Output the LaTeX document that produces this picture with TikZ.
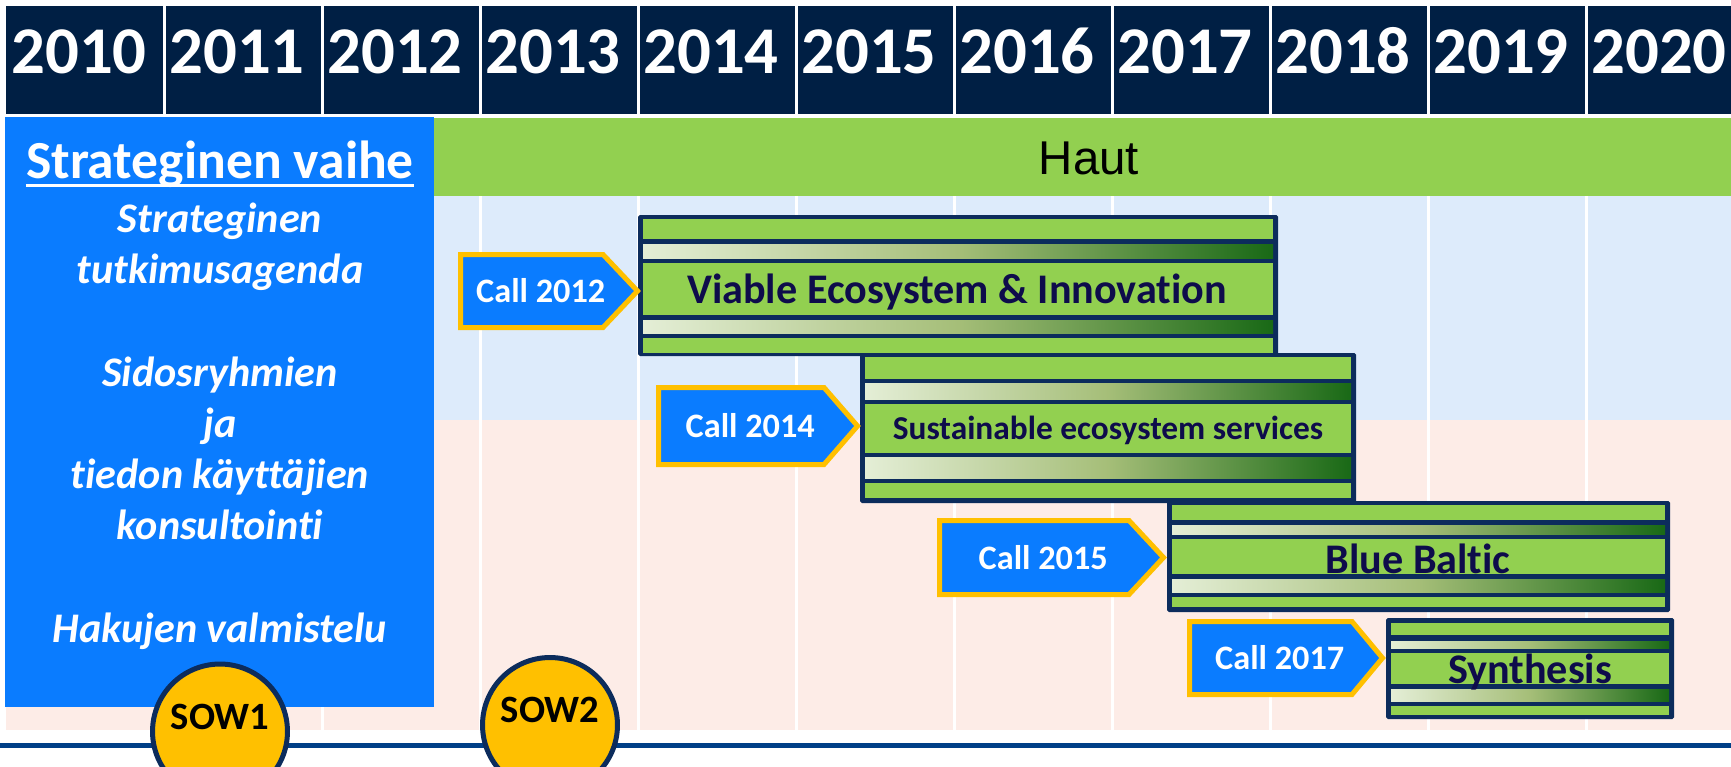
\documentclass[tikz,border=0pt]{standalone}
\usepackage{fontspec}
\setmainfont{Carlito}[Ligatures={NoCommon,NoContextual}, Contextuals=NoAlternate, RawFeature=-dlig]
\newfontfamily\arialfont{Liberation Sans}
\def\pxu{0.569pt}
\definecolor{hdr}{RGB}{0,31,68}
\definecolor{bbox}{RGB}{10,124,255}
\definecolor{hgreen}{RGB}{146,208,80}
\definecolor{navy}{RGB}{12,44,92}
\definecolor{lblue}{RGB}{221,235,251}
\definecolor{lpink}{RGB}{253,236,231}
\definecolor{lineblue}{RGB}{0,63,135}
\definecolor{gold}{RGB}{255,192,0}
\definecolor{gL}{RGB}{228,238,214}
\definecolor{gM}{RGB}{165,190,120}
\definecolor{gR}{RGB}{25,105,22}
\definecolor{ttl}{RGB}{14,12,75}
\tikzset{
  yeartext/.style={anchor=base, text=white, font=\bfseries\fontsize{38}{38}\selectfont, inner sep=0},
  lefttext/.style={anchor=base, text=white, font=\bfseries\itshape\fontsize{24}{24}\selectfont, inner sep=0},
  calltext/.style={text=white, font=\bfseries\fontsize{19.5}{19.5}\selectfont, inner sep=0},
  projtext/.style={anchor=base, text=ttl, font=\bfseries\fontsize{24}{24}\selectfont, inner sep=0},
  sowtext/.style={anchor=base, text=black, font=\bfseries\fontsize{22}{22}\selectfont, inner sep=0},
  callshape/.style={fill=bbox, draw=gold, line width=5*\pxu, line join=miter},
  gstripe/.style={fill=hgreen},
  dstripe/.style={left color=gL, right color=gR, middle color=gM},
  sowcircle/.style={circle, fill=gold, draw=navy, line width=5*\pxu, minimum size=135*\pxu, inner sep=0},
  gridline/.style={white, line width=3*\pxu}
}
\newcommand\projbox[6]{%
  \fill[navy, rounded corners=1pt] (#1,#3) rectangle (#2,#4);
  \foreach \ya/\yb in {#5} {\fill[gstripe] ({#1+5},\ya) rectangle ({#2-5},\yb);}
  \foreach \ya/\yb in {#6} {\shade[dstripe] ({#1+5},\ya) rectangle ({#2-5},\yb);}
}
\newcommand\callarrow[7]{%
  \draw[callshape] (#2,#5) -- (#3,#5) -- (#4,{(#5+#6)/2}) -- (#3,#6) -- (#2,#6) -- cycle;
  \node[calltext] (#1) at ({(#2+#3)/2+9},{(#5+#6)/2}) {#7};
}
\begin{document}
\begin{tikzpicture}[x=0.02cm, y=-0.02cm]
\useasboundingbox[fill=white] (0,0) rectangle (1731,767);
% header
\fill[hdr] (6,6) rectangle (1731,114);
\foreach \i in {1,...,10} {\draw[gridline] ({6+158*\i},6) -- ({6+158*\i},114);}
\foreach \i in {0,...,10} {
  \pgfmathtruncatemacro\yr{2010+\i}
  \node[yeartext] (y\yr) at ({79+158*\i},74) {\yr};
}
% backgrounds
\fill[lblue] (6,196) rectangle (1731,420);
\fill[lpink] (6,420) rectangle (1731,730);
\foreach \i in {1,...,10} {\draw[gridline] ({6+158*\i},196) -- ({6+158*\i},730);}
% Haut band
\fill[hgreen] (434,118) rectangle (1731,196);
\node[font=\arialfont\fontsize{27}{27}\selectfont, anchor=base, inner sep=0] (haut) at (1089,174) {Haut};
% left blue box
\fill[bbox] (5,117) rectangle (434,707);
\node[anchor=base, text=white, font=\bfseries\fontsize{30.5}{30.5}\selectfont, inner sep=0] (title) at (220,178) {Strateginen vaihe};
\draw[white, line width=3.3*\pxu] ([yshift=-4.2pt]title.base west) -- ([yshift=-4.2pt]title.base east);
\node[lefttext] (l1) at (220,232) {Strateginen};
\node[lefttext] (l2) at (220,283) {tutkimusagenda};
\node[lefttext] (l3) at (220,386) {Sidosryhmien};
\node[lefttext] (l4) at (220,437) {ja};
\node[lefttext] (l5) at (220,488) {tiedon käyttäjien};
\node[lefttext] (l6) at (220,539) {konsultointi};
\node[lefttext] (l7) at (220,642) {Hakujen valmistelu};
% project boxes
\projbox{638}{1278}{215}{356}{219/239,263/315,338/353}{244/258,320/333}
\node[projtext] (p1) at (957,303) {Viable Ecosystem \& Innovation};
\projbox{860}{1356}{353}{503}{357/379,404/453,483/498}{383/399,457/478}
\node[projtext, font=\bfseries\fontsize{19}{19}\selectfont] (p2) at (1108,439) {Sustainable ecosystem services};
\projbox{1167}{1670}{501}{612}{505/520,539/574,597/607}{525/534,579/592}
\node[projtext] (p3) at (1418,573) {Blue Baltic};
\projbox{1386}{1674}{618}{719}{623/635,653/684,706/715}{641/648,689/701}
\node[projtext] (p4) at (1530,683) {Synthesis};
% calls
\callarrow{c12}{460.5}{603}{637.5}{254.5}{327.5}{Call 2012}
\callarrow{c14}{658.5}{824}{857.5}{387.5}{464.5}{Call 2014}
\callarrow{c15}{939.5}{1129}{1163.5}{520.5}{594.5}{Call 2015}
\callarrow{c17}{1189.5}{1352}{1382.5}{621.5}{694.5}{Call 2017}
% bottom line
\draw[lineblue, line width=5.5*\pxu] (0,745.5) -- (1731,745.5);
% SOW circles
\node[sowcircle] (sow1) at (220,731.5) {};
\node[sowtext] (sow1t) at (220,729) {SOW1};
\node[sowcircle] (sow2) at (550,725) {};
\node[sowtext] (sow2t) at (550,722.5) {SOW2};
\end{tikzpicture}
\end{document}
